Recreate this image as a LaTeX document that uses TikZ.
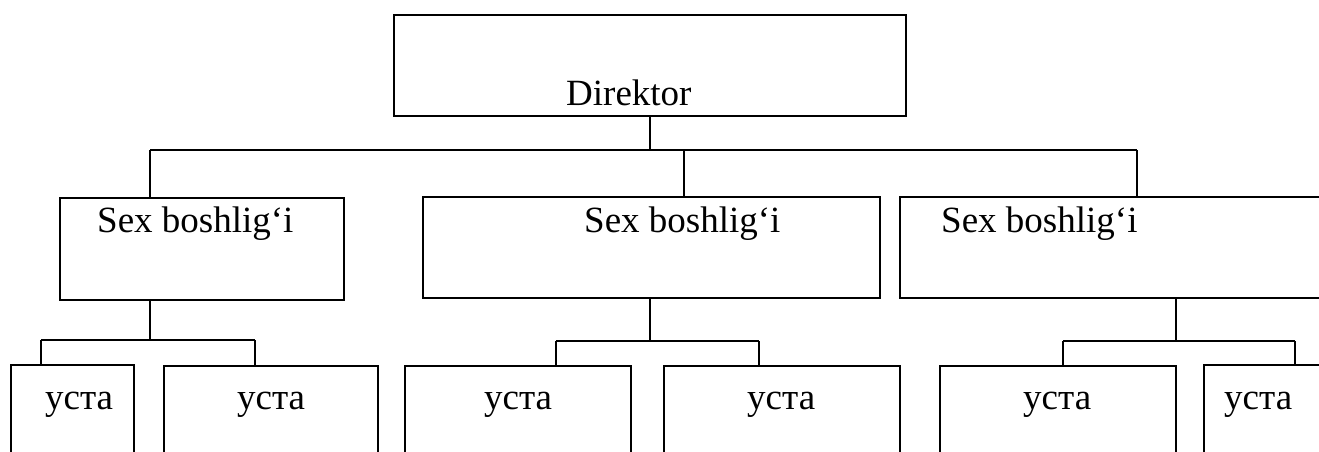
\documentclass[tikz,border=0pt]{standalone}
\usepackage{fontspec}
\setmainfont{Liberation Serif}
\begin{document}
\begin{tikzpicture}[x=1pt,y=-1pt,
  box/.style={draw,line width=1.7pt,inner sep=0pt,rectangle},
  lbl/.style={anchor=base west,inner sep=0pt,font=\fontsize{37}{44}\selectfont},
  link/.style={line width=1.7pt}]
\useasboundingbox (0,0) rectangle (1319,452);
\clip (0,0) rectangle (1319,452);

% top level
\node[box,minimum width=512pt,minimum height=101pt] (dir) at (650,65.5) {};
\node[lbl] (tdir) at (566,105) {Direktor};

% department heads
\node[box,minimum width=284pt,minimum height=102pt] (s1) at (202,249) {};
\node[box,minimum width=457pt,minimum height=101pt] (s2) at (651.5,247.5) {};
\node[box,minimum width=520pt,minimum height=101pt] (s3) at (1160,247.5) {};
\node[lbl] (ts1) at (97,232) {Sex boshlig‘i};
\node[lbl] (ts2) at (584,232) {Sex boshlig‘i};
\node[lbl] (ts3) at (941,232) {Sex boshlig‘i};

% masters
\node[box,minimum width=123pt,minimum height=115pt] (u1) at (72.5,422.5) {};
\node[box,minimum width=214pt,minimum height=114pt] (u2) at (271,423) {};
\node[box,minimum width=226pt,minimum height=114pt] (u3) at (518,423) {};
\node[box,minimum width=236pt,minimum height=114pt] (u4) at (782,423) {};
\node[box,minimum width=236pt,minimum height=114pt] (u5) at (1058,423) {};
\node[box,minimum width=196pt,minimum height=115pt] (u6) at (1302,422.5) {};
\node[lbl] (tu1) at (45,409) {уста};
\node[lbl] (tu2) at (237,409) {уста};
\node[lbl] (tu3) at (484,409) {уста};
\node[lbl] (tu4) at (747,409) {уста};
\node[lbl] (tu5) at (1023,409) {уста};
\node[lbl] (tu6) at (1224,409) {уста};

% director to department heads
\coordinate (b0) at (650,150);
\coordinate (bL) at (150,150);
\coordinate (bM) at (684,150);
\coordinate (bR) at (1137,150);
\draw[link] (dir.south) -- (b0);
\draw[link] (bL) -- (bR);
\draw[link] (bL) -- (bL |- s1.north);
\draw[link] (bM) -- (bM |- s2.north);
\draw[link] (bR) -- (bR |- s3.north);

% department 1
\coordinate (j1) at (150,340);
\coordinate (j1a) at (41,340);
\coordinate (j1b) at (255,340);
\draw[link] (j1 |- s1.south) -- (j1);
\draw[link] (j1a) -- (j1b);
\draw[link] (j1a) -- (j1a |- u1.north);
\draw[link] (j1b) -- (j1b |- u2.north);

% department 2
\coordinate (j2) at (650,341);
\coordinate (j2a) at (556,341);
\coordinate (j2b) at (759,341);
\draw[link] (j2 |- s2.south) -- (j2);
\draw[link] (j2a) -- (j2b);
\draw[link] (j2a) -- (j2a |- u3.north);
\draw[link] (j2b) -- (j2b |- u4.north);

% department 3
\coordinate (j3) at (1176,341);
\coordinate (j3a) at (1063,341);
\coordinate (j3b) at (1295,341);
\draw[link] (j3 |- s3.south) -- (j3);
\draw[link] (j3a) -- (j3b);
\draw[link] (j3a) -- (j3a |- u5.north);
\draw[link] (j3b) -- (j3b |- u6.north);
\end{tikzpicture}
\end{document}
